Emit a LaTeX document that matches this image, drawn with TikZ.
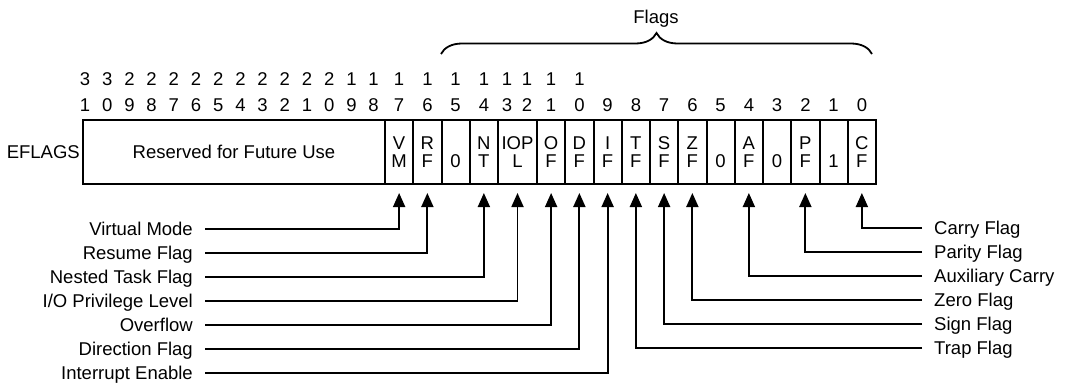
\documentclass[tikz,border=0pt]{standalone}
\usepackage{fontspec}
\setmainfont{Liberation Sans}
\usetikzlibrary{positioning,arrows.meta,decorations.pathreplacing}
\newcommand\lowbit[1]{\vphantom{X}\\#1}

\begin{document}
\begin{tikzpicture}[x=1pt,y=-1pt,
    every node/.style={font=\fontsize{18.5}{18}\selectfont},
    regbox/.style={draw,line width=2pt,minimum height=64pt,inner sep=0pt,outer sep=0pt},
    flagcell/.style={regbox,align=center},
    bitnum/.style={inner sep=0pt},
    flagname/.style={inner sep=0pt,text height=13.2pt,text depth=0pt},
    flagline/.style={line width=1.8pt,-{Triangle[width=12pt,length=14pt]},shorten >=9pt}]
  \useasboundingbox (0,0) rectangle (1069,388);
  % register
  \node[regbox,minimum width=302pt,anchor=north west] (res) at (83,120) {Reserved for Future Use};
  \node[flagname,left=3pt of res] (eflags) {EFLAGS};
  \foreach \nm/\txt/\w [remember=\nm as \prev (initially res)] in
    {VM/V\\M/28.25, RF/R\\F/28.25, zb/\lowbit{0}/28.25, NT/N\\T/28.25, IOPL/IOP\\L/39,
     OF/O\\F/28.25, DF/D\\F/28.25, IF/I\\F/28.25, TF/T\\F/28.25, SF/S\\F/28.25, ZF/Z\\F/28.25,
     zc/\lowbit{0}/28.25, AF/A\\F/28.25, zd/\lowbit{0}/28.25, PF/P\\F/28.25, one/\lowbit{1}/28.25, CF/C\\F/28.25}
    \node[flagcell,minimum width=\w pt,right=0pt of \prev] (\nm) {\txt};
  % bit numbers
  \foreach \b/\x in {31/85, 30/107.2, 29/129.4, 28/151.6, 27/173.8, 26/196, 25/218.2, 24/240.4,
      23/262.6, 22/284.8, 21/307, 20/329.2, 19/351.4, 18/373.6, 17/399.1, 16/427.4, 15/455.6,
      14/483.9, 13/507, 12/527, 11/551.1, 10/579.4, 9/607.6, 8/635.9, 7/664.1, 6/692.4,
      5/720.6, 4/748.9, 3/777.1, 2/805.4, 1/833.6, 0/861.9} {
    \pgfmathtruncatemacro\tens{\b/10}
    \pgfmathtruncatemacro\ones{mod(\b,10)}
    \node[bitnum] (bit\b) at (\x,105) {\ones};
    \ifnum\b>9 \node[bitnum] (bitt\b) at (\x,79) {\tens}; \fi
  }
  % flags brace
  \draw[line width=1.8pt,decorate,decoration={brace,amplitude=21pt}] (441,54) -- (872,54);
  \node[flagname] (flagsttl) at (656,17) {Flags};
  % left labels
  \foreach \nm/\txt/\y in {VM/Virtual Mode/229, RF/Resume Flag/253, NT/Nested Task Flag/277,
      IOPL/{I/O Privilege Level}/301, OF/Overflow/325, DF/Direction Flag/349, IF/Interrupt Enable/373} {
    \node[flagname,anchor=east] (l\nm) at (193,\y) {\txt};
    \draw[flagline,shorten <=12pt] (l\nm.east) -| (\nm.south);
  }
  % right labels
  \foreach \nm/\txt/\y in {CF/Carry Flag/228, PF/Parity Flag/252, AF/Auxiliary Carry/276,
      ZF/Zero Flag/300, SF/Sign Flag/324, TF/Trap Flag/348} {
    \node[flagname,anchor=west] (l\nm) at (934,\y) {\txt};
    \draw[flagline,shorten <=12pt] (l\nm.west) -| (\nm.south);
  }
\end{tikzpicture}
\end{document}
